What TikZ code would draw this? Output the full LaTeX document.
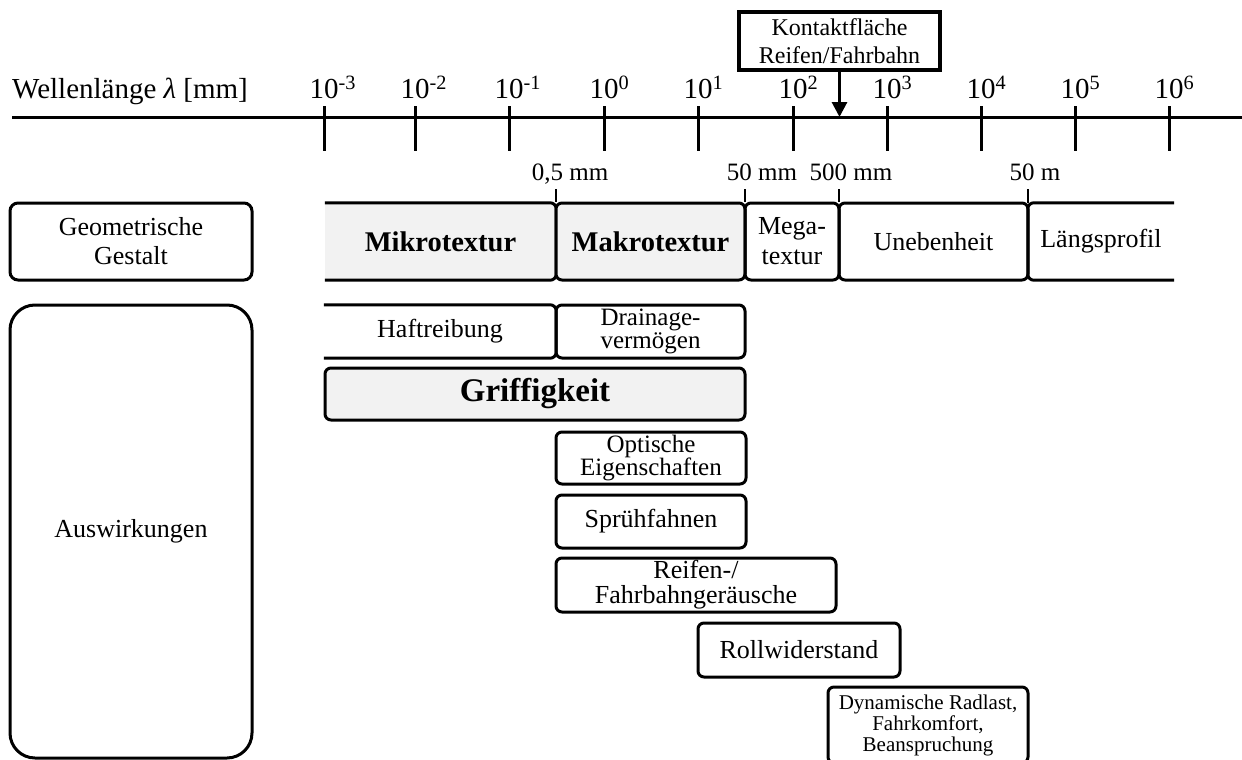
\documentclass[tikz,border=0pt]{standalone}
\usepackage{fontspec}
\setmainfont{Liberation Serif}
\usetikzlibrary{arrows.meta}
\newcommand\setfs[2]{\fontsize{#1}{#2}\selectfont}
\definecolor{boxgray}{HTML}{F2F2F2}
\begin{document}
\begin{tikzpicture}[x=1pt,y=-1pt,
  boxline/.style={line width=3pt},
  box/.style={draw, line width=3pt, rounded corners=6pt, inner sep=0pt, align=center, font=\setfs{26}{27}},
  gbox/.style={box, fill=boxgray, font=\setfs{28.5}{30}\bfseries},
  obox/.style={inner sep=0pt, align=center, font=\setfs{26}{27}},
  toplab/.style={inner sep=0pt, font=\setfs{29}{30}},
  mlab/.style={inner sep=0pt, font=\setfs{25}{27}},
  axisline/.style={line width=3pt},
  tickline/.style={line width=3pt},
  conline/.style={line width=2pt}]
\useasboundingbox (0,0) rectangle (1242,760);

% axis
\coordinate (axL) at (12,117);
\coordinate (axR) at (1242,117);
\draw[axisline] (axL) -- (axR);
\node[toplab, anchor=base west] (wl) at (12,99) {Wellenlänge {\itshape λ} [mm]};
\foreach \x/\e [count=\i] in {324/-3,415/-2,509/-1,604/0,698/1,793/2,887/3,981/4,1075/5,1169/6}{
  \coordinate (tt\i) at (\x,106);
  \coordinate (tb\i) at (\x,151);
  \draw[tickline] (tt\i) -- (tb\i);
  \node[toplab, anchor=base] (lab\i) at (\x,99) {10\rlap{\textsuperscript{\e}}};
}

% contact box
\node[draw, line width=3.5pt, inner sep=0pt, minimum width=201pt, minimum height=58pt, align=center, font=\setfs{24}{28}] (kon) at (839.5,41) {Kontaktfläche\\Reifen/Fahrbahn};
\coordinate (kpt) at (839.5,117);
\draw[line width=3pt, -{Triangle[width=15pt,length=15pt]}] (kon.south) -- (kpt);

% scale labels
\node[mlab, anchor=base] (m1) at (570,180) {0,5 mm};
\node[mlab, anchor=base] (m2) at (762,180) {50 mm};
\node[mlab, anchor=base] (m3) at (851,180) {500 mm};
\node[mlab, anchor=base] (m4) at (1035,180) {50 m};

% row 1
\node[box, rounded corners=8pt, minimum width=242pt, minimum height=77pt, font=\setfs{26}{29}] (geo) at (131,241.5) {Geometrische\\Gestalt};
\node[obox, fill=boxgray, minimum width=231pt, minimum height=77pt, font=\setfs{28.5}{30}\bfseries] (mik) at (440.5,241.5) {Mikrotextur};
\draw[boxline, rounded corners=6pt] (mik.north west) -- (mik.north east) -- (mik.south east) -- (mik.south west);
\node[gbox, minimum width=189pt, minimum height=77pt] (mak) at (650.5,241.5) {Makrotextur};
\node[box, minimum width=94pt, minimum height=77pt, font=\setfs{26}{30}] (meg) at (792,241.5) {Mega-\\textur};
\node[box, minimum width=189pt, minimum height=77pt] (une) at (933.5,241.5) {Unebenheit};
\node[obox, minimum width=146pt, minimum height=77pt] (lae) at (1101,241.5) {Längsprofil};
\draw[boxline, rounded corners=6pt] (lae.north east) -- (lae.north west) -- (lae.south west) -- (lae.south east);

% connectors from scale labels
\coordinate (c1) at (556,189);
\coordinate (c2) at (745,189);
\coordinate (c3) at (839,189);
\coordinate (c4) at (1028,189);
\draw[conline] (c1) -- (c1 |- mak.north);
\draw[conline] (c2) -- (c2 |- meg.north);
\draw[conline] (c3) -- (c3 |- une.north);
\draw[conline] (c4) -- (c4 |- lae.north);

% Auswirkungen
\node[box, rounded corners=25pt, minimum width=242pt, minimum height=453pt] (aus) at (131,531.5) {Auswirkungen};

\node[obox, minimum width=232pt, minimum height=53pt] (haf) at (440,331.5) {Haftreibung};
\draw[boxline, rounded corners=6pt] (haf.north west) -- (haf.north east) -- (haf.south east) -- (haf.south west);
\node[box, minimum width=189pt, minimum height=53pt, font=\setfs{25}{23.5}] (dra) at (650.5,331.5) {Drainage-\\vermögen};
\node[gbox, minimum width=420pt, minimum height=52pt, font=\setfs{33}{34}\bfseries] (gri) at (535,394) {Griffigkeit};
\node[box, minimum width=190pt, minimum height=52pt, font=\setfs{25}{23.5}] (opt) at (651,458) {Optische\\Eigenschaften};
\node[box, minimum width=190pt, minimum height=53pt] (spr) at (651,521.5) {Sprühfahnen};
\node[box, minimum width=280pt, minimum height=54pt, font=\setfs{26}{25}] (rei) at (696,585) {Reifen-/\\Fahrbahngeräusche};
\node[box, minimum width=202pt, minimum height=54pt] (rol) at (799,650) {Rollwiderstand};
\node[box, minimum width=200pt, minimum height=76pt, font=\setfs{21}{21}] (dyn) at (928,725) {Dynamische Radlast,\\Fahrkomfort,\\Beanspruchung};
\end{tikzpicture}
\end{document}
